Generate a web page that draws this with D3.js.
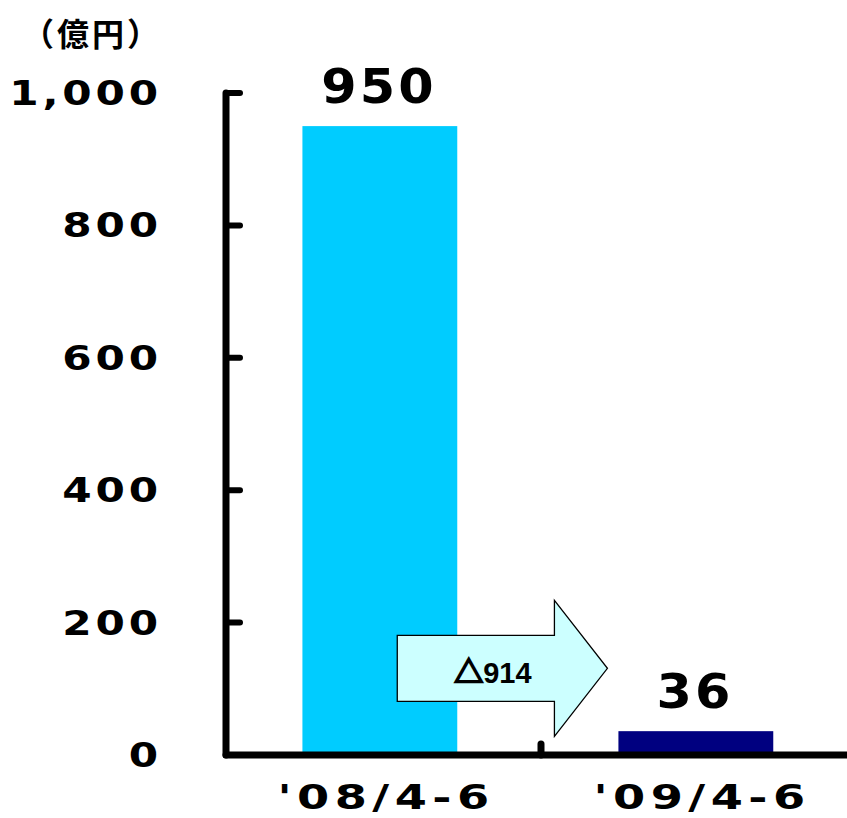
<!DOCTYPE html>
<html>
<head>
<meta charset="utf-8">
<script src="https://cdn.jsdelivr.net/npm/d3@7"></script>
<style>
  body { margin: 0; background: #fff; }
  text { font-family: "DejaVu Sans", sans-serif; font-weight: bold; fill: #000; }
</style>
</head>
<body>
<script>
// data
const categories = ["'08/4-6", "'09/4-6"];
const profits = [950, 36];
const barColors = ["#00ccff", "#000080"];
const yTicks = [0, 200, 400, 600, 800, 1000];
const unitLabel = "（億円）";
const changeLabel = "914";

let svg = null;
let x, y = null;

const W = 847, H = 818;
const axisLeft = 226, axisRight = 857;
const axisTop = 93, axisBottom = 755;

appendSvg("body");
setupScales();
appendChartBars();
appendAxes();
appendLabels();
appendArrow();

function appendSvg(domElement) {
  svg = d3.select(domElement).append("svg")
    .attr("width", W)
    .attr("height", H);
}

function setupScales() {
  x = d3.scaleBand()
    .range([axisLeft - 1, axisRight])
    .domain(categories);
  y = d3.scaleLinear()
    .domain([0, 1000])
    .range([axisBottom, axisTop]);
}

function barX(c) {
  return x(c) + x.bandwidth() * 0.245;
}

// wide gothic look: stretch text horizontally
function wide(px, py, sx) {
  return `translate(${px},${py}) scale(${sx},1)`;
}

function appendChartBars() {
  svg.selectAll("rect.bar")
    .data(categories)
    .enter()
    .append("rect")
    .attr("class", "bar")
    .attr("x", d => barX(d))
    .attr("y", (d, i) => y(profits[i]))
    .attr("width", x.bandwidth() * 0.49)
    .attr("height", (d, i) => y(0) - y(profits[i]))
    .style("fill", (d, i) => barColors[i]);
}

function appendAxes() {
  const g = svg.append("g").attr("stroke", "#000").attr("stroke-linecap", "round");
  // y axis line
  g.append("line")
    .attr("x1", axisLeft).attr("x2", axisLeft)
    .attr("y1", y(1000)).attr("y2", y(0))
    .attr("stroke-width", 7);
  // y ticks pointing inward
  g.selectAll("line.ytick")
    .data(yTicks.filter(d => d > 0))
    .enter()
    .append("line")
    .attr("class", "ytick")
    .attr("x1", axisLeft).attr("x2", axisLeft + 14)
    .attr("y1", d => y(d)).attr("y2", d => y(d))
    .attr("stroke-width", 6);
  // x axis line
  g.append("line")
    .attr("x1", axisLeft).attr("x2", W + 5)
    .attr("y1", y(0)).attr("y2", y(0))
    .attr("stroke-width", 7);
  // category divider tick
  g.selectAll("line.xtick")
    .data(categories.slice(1))
    .enter()
    .append("line")
    .attr("class", "xtick")
    .attr("x1", d => x(d)).attr("x2", d => x(d))
    .attr("y1", y(0)).attr("y2", y(0) - 11)
    .attr("stroke-width", 7);

  // y tick labels
  svg.selectAll("text.ylab")
    .data(yTicks)
    .enter()
    .append("text")
    .attr("class", "ylab")
    .attr("transform", d => wide(158 + 4, y(d) + 12, 1.28))
    .attr("text-anchor", "end")
    .style("font-size", "33px")
    .style("letter-spacing", "3px")
    .text(d => d3.format(",")(d));

  // x labels
  svg.selectAll("text.xlab")
    .data(categories)
    .enter()
    .append("text")
    .attr("class", "xlab")
    .attr("transform", d => wide(x(d) + x.bandwidth() / 2 + 3, 809, 1.36))
    .attr("text-anchor", "middle")
    .style("font-size", "34px")
    .style("letter-spacing", "4px")
    .text(d => d);
}

function appendLabels() {
  svg.selectAll("text.val")
    .data(categories)
    .enter()
    .append("text")
    .attr("class", "val")
    .attr("transform", (d, i) => wide(x(d) + x.bandwidth() / 2 - 4, y(profits[i]) - 23, 1.06))
    .attr("text-anchor", "middle")
    .style("font-size", "48px")
    .style("letter-spacing", "3px")
    .text((d, i) => profits[i]);

  svg.append("text")
    .attr("x", 22)
    .attr("y", 46)
    .style("font-family", "'Noto Sans CJK JP', sans-serif")
    .style("font-size", "32px")
    .style("letter-spacing", "3px")
    .text(unitLabel);
}

function appendArrow() {
  // arrow from first bar to second, around value 131
  const left = barX(categories[0]) + x.bandwidth() * 0.49 - 60;
  const tip = barX(categories[1]) - 11;
  const cy = y(131);
  const headX = tip - 53;
  const bodyH = 33, headH = 68;
  const pts = [
    [left, cy - bodyH], [headX, cy - bodyH], [headX, cy - headH],
    [tip, cy], [headX, cy + headH], [headX, cy + bodyH], [left, cy + bodyH]
  ];
  svg.append("polygon")
    .attr("points", pts.map(p => p.join(",")).join(" "))
    .attr("fill", "#ccffff")
    .attr("stroke", "#000")
    .attr("stroke-width", 1.3);
  const t = svg.append("text")
    .attr("x", (left + headX) / 2 + 17)
    .attr("y", cy + 15)
    .attr("text-anchor", "middle")
    .style("font-size", "29px");
  t.append("tspan")
    .style("font-family", "'Noto Sans CJK JP', sans-serif")
    .style("font-size", "29px")
    .style("stroke", "#000")
    .style("stroke-width", "2px")
    .text("△");
  t.append("tspan")
    .style("font-family", "'Liberation Sans', Arial, sans-serif")
    .text(changeLabel);
}
</script>
</body>
</html>
